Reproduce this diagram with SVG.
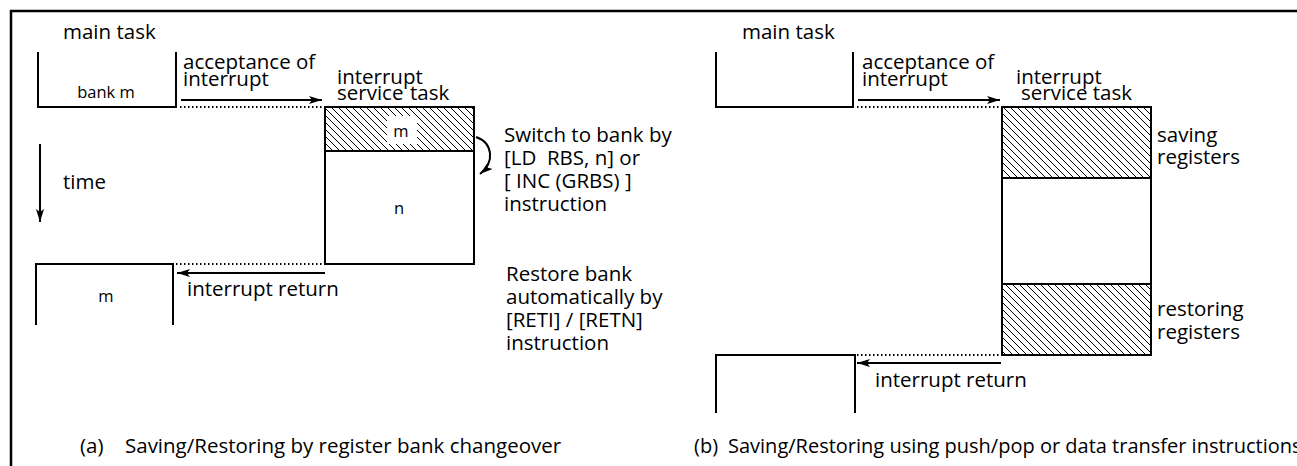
<svg xmlns="http://www.w3.org/2000/svg" width="1297" height="466" viewBox="0 0 1297 466">
<style>
  text { font-family: "Open Sans", "Liberation Sans", sans-serif; fill: #000; }
  .lbl { font-size: 20.5px; }
  .cap { font-size: 20px; }
  .sm { font-size: 16.5px; }
  .ln { fill: none; stroke: #000; stroke-width: 2; }
  .dot { fill: none; stroke: #000; stroke-width: 2; stroke-dasharray: 1.5 2.5; }
  .arr { fill: none; stroke: #000; stroke-width: 2; marker-end: url(#ah); }
  .hatch { fill: url(#hp); stroke: none; }
</style>
<defs>
  <pattern id="hp" patternUnits="userSpaceOnUse" width="7" height="7">
    <path d="M-1,-1 L8,8 M-1,6 L1,8 M6,-1 L8,1" stroke="#000" stroke-width="1"/>
  </pattern>
  <marker id="ah" markerUnits="userSpaceOnUse" markerWidth="14" markerHeight="10" refX="13" refY="4" orient="auto">
    <path d="M0,0 L13,4 L0,8 L3,4 z" fill="#000"/>
  </marker>
</defs>
<rect width="1297" height="466" fill="#fff"/>
<g id="frame">
  <path d="M11,466 V11 H1297" fill="none" stroke="#000" stroke-width="2.5"/>
</g>

<!-- (a) -->
<g id="a-main-task">
  <text class="lbl" x="63" y="39">main task</text>
  <path class="ln" d="M38,52 V107 H176 V52"/>
  <text class="sm" x="106" y="98" text-anchor="middle">bank m</text>
</g>
<g id="a-isr">
  <text class="lbl" x="337" y="84">interrupt</text>
  <text class="lbl" y="100"><tspan x="337">service</tspan><tspan x="410">task</tspan></text>
  <rect class="hatch" x="325" y="107" width="149" height="44"/>
  <rect x="387" y="116" width="30" height="28" fill="#fff"/>
  <text class="sm" x="401" y="137" text-anchor="middle">m</text>
  <rect class="ln" x="325" y="107" width="149" height="157"/>
  <line class="ln" x1="325" y1="151" x2="474" y2="151"/>
  <text class="sm" x="399" y="214" text-anchor="middle">n</text>
</g>
<g id="a-switch-note">
  <text class="lbl" x="504" y="142">Switch to bank by</text>
  <text class="lbl" x="504" y="165" xml:space="preserve">[LD  RBS, n] or</text>
  <text class="lbl" x="504" y="188">[ INC (GRBS) ]</text>
  <text class="lbl" x="504" y="211">instruction</text>
</g>
<g id="a-time">
  <text class="lbl" x="63" y="189">time</text>
</g>
<g id="a-main-return">
  <path class="ln" d="M36,325 V264 H173 V325"/>
  <text class="sm" x="106" y="302" text-anchor="middle">m</text>
</g>
<g id="a-restore-note">
  <text class="lbl" x="506" y="281">Restore bank</text>
  <text class="lbl" x="506" y="304">automatically by</text>
  <text class="lbl" x="506" y="327">[RETI] / [RETN]</text>
  <text class="lbl" x="506" y="350">instruction</text>
</g>
<g id="a-labels">
  <text class="lbl" x="183" y="69">acceptance of</text>
  <text class="lbl" x="183" y="86">interrupt</text>
  <text class="lbl" x="187" y="296">interrupt return</text>
</g>
<g id="caption-a">
  <text class="lbl" y="453"><tspan x="80">(a)</tspan><tspan x="125">Saving/Restoring by register bank changeover</tspan></text>
</g>

<!-- (b) -->
<g id="b-main-task">
  <text class="lbl" x="742" y="39">main task</text>
  <path class="ln" d="M716,52 V107 H853 V52"/>
</g>
<g id="b-isr">
  <text class="lbl" x="1016" y="84">interrupt</text>
  <text class="lbl" x="1021" y="100">service task</text>
  <rect class="hatch" x="1002" y="107" width="149" height="71"/>
  <rect class="hatch" x="1002" y="284" width="149" height="71"/>
  <rect class="ln" x="1002" y="107" width="149" height="248"/>
  <line class="ln" x1="1002" y1="178" x2="1151" y2="178"/>
  <line class="ln" x1="1002" y1="284" x2="1151" y2="284"/>
  <text class="lbl" x="1157" y="142">saving</text>
  <text class="lbl" x="1157" y="164">registers</text>
  <text class="lbl" x="1157" y="316">restoring</text>
  <text class="lbl" x="1157" y="339">registers</text>
</g>
<g id="b-main-return">
  <path class="ln" d="M716,413 V355 H855 V413"/>
</g>
<g id="b-labels">
  <text class="lbl" x="862" y="69">acceptance of</text>
  <text class="lbl" x="862" y="86">interrupt</text>
  <text class="lbl" x="875" y="387">interrupt return</text>
</g>
<g id="caption-b">
  <text class="cap" y="453"><tspan x="694">(b)</tspan><tspan x="728">Saving/Restoring using push/pop or data transfer instructions</tspan></text>
</g>

<g id="connectors">
  <line class="arr" x1="181" y1="100" x2="322" y2="100"/>
  <line class="dot" x1="180" y1="107" x2="323" y2="107"/>
  <path class="arr" d="M476,137 C493,143 495,162 480,174"/>
  <line class="arr" x1="40" y1="144" x2="40" y2="222"/>
  <line class="dot" x1="176" y1="264" x2="323" y2="264"/>
  <line class="arr" x1="325" y1="273" x2="177" y2="273"/>
  <line class="arr" x1="858" y1="100" x2="1000" y2="100"/>
  <line class="dot" x1="857" y1="107" x2="1001" y2="107"/>
  <line class="dot" x1="857" y1="355" x2="1001" y2="355"/>
  <line class="arr" x1="1001" y1="363" x2="857" y2="363"/>
</g>
</svg>
